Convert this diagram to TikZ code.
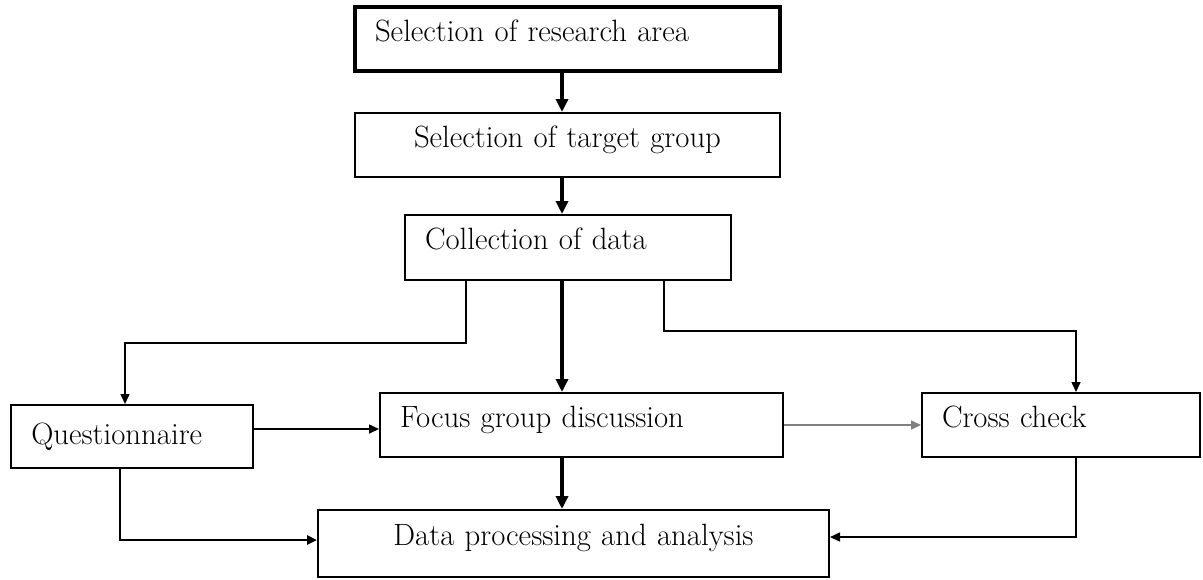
\documentclass[tikz,border=0pt]{standalone}
\usepackage{tikz}
\usetikzlibrary{arrows.meta,positioning}

\begin{document}
\begin{tikzpicture}[x=0.5pt,y=-0.5pt,
   font=\fontsize{15.4}{18}\selectfont,
   box/.style={draw,rectangle,line width=1pt,inner xsep=10pt,inner ysep=0pt,
      text height=10pt,text depth=8pt,minimum height=32pt,align=left},
   flow/.style={line width=2pt,-{Triangle[length=6.5pt,width=6pt]}},
   link/.style={line width=0.8pt,-{Triangle[length=5pt,width=4.5pt]}}]
   \useasboundingbox (0,0) rectangle (1203,579);
\node[box,line width=1.6pt,text width=192.5pt] (area) at (567.5,39) {Selection of research area};
\node[box,align=center,text width=192.5pt] (target) at (567.5,145) {Selection of target group};
\node[box,text width=143pt,minimum height=32.5pt] (collect) at (568,247.5) {Collection of data};
\node[box,text width=100.75pt,minimum height=31.5pt,text depth=2pt] (quest) at (132,436.5) {Questionnaire};
\node[box,text width=181.5pt] (focus) at (581.5,425) {Focus group discussion};
\node[box,text width=119pt] (cross) at (1061,425) {Cross check};
\node[box,align=center,text width=235.5pt,minimum height=33.5pt] (data) at (573.5,543.5) {Data processing and analysis};
\coordinate (spine) at (562,0);
\coordinate (lft) at (466,0);
\coordinate (rgt) at (664,0);
\coordinate (qout) at (120,0);
\coordinate (qdrop) at (125,343);
\coordinate (cdrop) at (1076,331);
\draw[flow] (area.south -| spine) -- (target.north -| spine);
\draw[flow] (target.south -| spine) -- (collect.north -| spine);
\draw[flow] (collect.south -| spine) -- (focus.north -| spine);
\draw[flow] (focus.south -| spine) -- (data.north -| spine);
\draw[link] (collect.south -| lft) |- (qdrop) -- (quest.north -| qdrop);
\draw[link] (collect.south -| rgt) |- (cdrop) -- (cross.north -| cdrop);
\draw[link] ([yshift=3.75pt]quest.east) -- ([yshift=3.75pt]quest.east -| focus.west);
\draw[link,gray] (focus.east) -- (cross.west);
\draw[link,line width=1.4pt] (quest.south -| qout) |- ([yshift=1.75pt]data.west);
\draw[link] (cross.south -| cdrop) |- ([yshift=3.25pt]data.east);
\end{tikzpicture}
\end{document}
